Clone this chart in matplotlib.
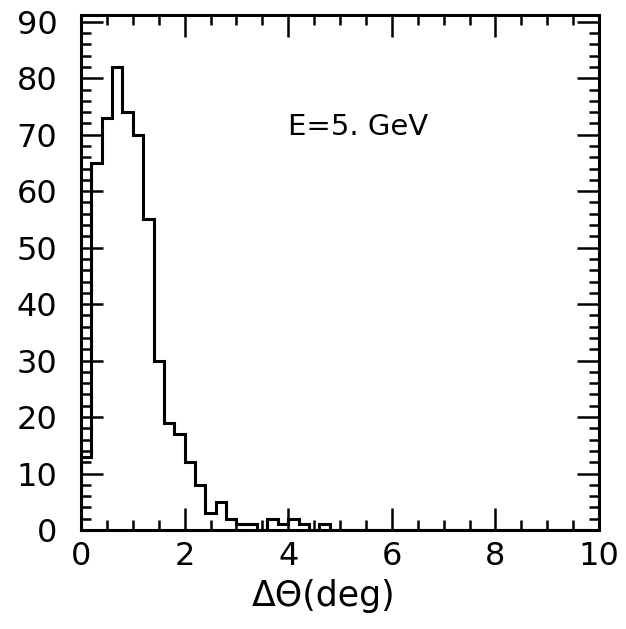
import numpy as np
import matplotlib
matplotlib.use('Agg')
import matplotlib.pyplot as plt
from matplotlib.ticker import MultipleLocator

# 直方图数据 (bin宽 0.2 deg, 0-10 deg)
bin_edges = np.arange(0, 10.0001, 0.2)
counts = [13, 65, 73, 82, 74, 70, 55, 30, 19, 17,
          12, 8, 3, 5, 2, 1, 1, 0, 2, 1,
          2, 1, 0, 1, 0, 0, 0, 0, 0, 0,
          0, 0, 0, 0, 0, 0, 0, 0, 0, 0,
          0, 0, 0, 0, 0, 0, 0, 0, 0, 0]
label_text = 'E=5. GeV'
x_label = 'ΔΘ(deg)'

plt.rcParams['font.family'] = ['DejaVu Sans']

fig = plt.figure(figsize=(6.26, 6.29), dpi=100)
ax = fig.add_axes([0.1294, 0.1574, 0.8275, 0.8188])

ax.stairs(counts, bin_edges, baseline=0, color='black', linewidth=2.2)

ax.set_xlim(0, 10)
ax.set_ylim(0, 91.2)

ax.xaxis.set_major_locator(MultipleLocator(2))
ax.xaxis.set_minor_locator(MultipleLocator(0.5))
ax.yaxis.set_major_locator(MultipleLocator(10))
ax.yaxis.set_minor_locator(MultipleLocator(2))

ax.tick_params(which='both', direction='in', top=True, right=True,
               width=1.8, color='black')
ax.tick_params(which='major', length=16)
ax.tick_params(which='minor', length=7.5)
ax.tick_params(axis='x', which='major', labelsize=23, pad=8)
ax.tick_params(axis='y', which='major', labelsize=23, pad=17)

for s in ax.spines.values():
    s.set_linewidth(2.2)

ax.text(4.0, 70, label_text, fontsize=21, va='baseline', ha='left')
ax.set_xlabel(x_label, fontsize=25)
ax.xaxis.set_label_coords(0.469, -0.095)

fig.savefig('out.png', dpi=100)
